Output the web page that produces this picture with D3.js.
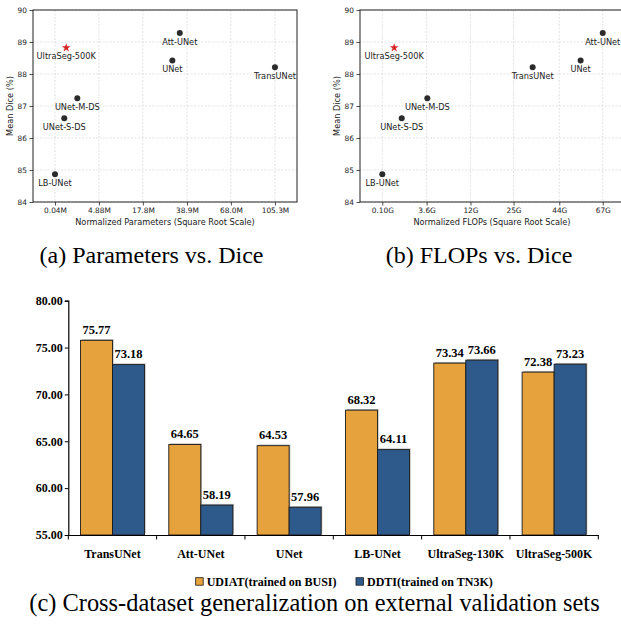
<!DOCTYPE html>
<html>
<head>
<meta charset="utf-8">
<script src="https://cdn.jsdelivr.net/npm/d3@7"></script>
<style>
  body { margin: 0; background: #fff; }
  svg { display: block; }
</style>
</head>
<body>
<svg width="621" height="625"></svg>
<script>
// scatter data (a) and (b)
var models = ["UltraSeg-500K", "UNet-S-DS", "UNet-M-DS", "LB-UNet", "UNet", "Att-UNet", "TransUNet"];
var dice = [88.82, 86.62, 87.24, 84.87, 88.42, 89.28, 88.21];
var params = [0.51, 0.39, 1.49, 0.04, 31.0, 34.9, 105.3];   // M
var flops = [0.55, 1.02, 3.70, 0.10, 54.7, 67.0, 32.3];     // G
var paramTicks = [0.04, 4.88, 17.8, 38.9, 68.0, 105.3];
var paramTickLabels = ["0.04M", "4.88M", "17.8M", "38.9M", "68.0M", "105.3M"];
var flopTicks = [0.10, 3.6, 12, 25, 44, 67];
var flopTickLabels = ["0.10G", "3.6G", "12G", "25G", "44G", "67G"];
var diceTicks = [84, 85, 86, 87, 88, 89, 90];

// bar data (c)
var categories = ["TransUNet", "Att-UNet", "UNet", "LB-UNet", "UltraSeg-130K", "UltraSeg-500K"];
var udiat = [75.77, 64.65, 64.53, 68.32, 73.34, 72.38];
var ddti = [73.18, 58.19, 57.96, 64.11, 73.66, 73.23];
var seriesNames = ["UDIAT(trained on BUSI)", "DDTI(trained on TN3K)"];
var barTicks = [55, 60, 65, 70, 75, 80];

var svg = d3.select("svg");
var sans = "DejaVu Sans, sans-serif";
var serif = "Liberation Serif, Times New Roman, serif";

function scatter(x, xVals, xTicks, xTickLabels, xTitle, caption, capX) {
    var y = d3.scaleLinear().domain([84, 90]).range([202, 10]);
    var g = svg.append("g");
    var x0 = x.range()[0], x1 = x.range()[1];

    // grid
    g.selectAll(".gx").data(xTicks).enter().append("line")
        .attr("x1", function(d) { return x(d); }).attr("x2", function(d) { return x(d); })
        .attr("y1", 10).attr("y2", 202)
        .attr("stroke", "#d0d0d0").attr("stroke-width", 0.6).attr("stroke-dasharray", "2,1.5");
    g.selectAll(".gy").data(diceTicks).enter().append("line")
        .attr("x1", x0).attr("x2", x1)
        .attr("y1", function(d) { return y(d); }).attr("y2", function(d) { return y(d); })
        .attr("stroke", "#d0d0d0").attr("stroke-width", 0.6).attr("stroke-dasharray", "2,1.5");

    // frame
    g.append("rect").attr("x", x0).attr("y", 10).attr("width", x1 - x0).attr("height", 192)
        .attr("fill", "none").attr("stroke", "#222").attr("stroke-width", 1);

    // axes
    var ax = g.append("g").attr("transform", "translate(0,202)")
        .call(d3.axisBottom(x).tickValues(xTicks).tickSize(3.5).tickPadding(2)
            .tickFormat(function(d, i) { return xTickLabels[i]; }));
    var ay = g.append("g").attr("transform", "translate(" + x0 + ",0)")
        .call(d3.axisLeft(y).tickValues(diceTicks).tickSize(3.5).tickPadding(2.5)
            .tickFormat(d3.format("d")));
    [ax, ay].forEach(function(a) {
        a.select(".domain").remove();
        a.selectAll("line").attr("stroke", "#222").attr("stroke-width", 0.8);
        a.selectAll("text").attr("font-family", sans).attr("font-size", 7.4).attr("fill", "#222");
    });

    // points
    var pts = models.map(function(m, i) { return {name: m, x: xVals[i], y: dice[i]}; });
    g.selectAll(".pt").data(pts.filter(function(d) { return d.name != "UltraSeg-500K"; }))
        .enter().append("circle")
        .attr("cx", function(d) { return x(d.x); })
        .attr("cy", function(d) { return y(d.y); })
        .attr("r", 3).attr("fill", "#2b2b2b");
    g.selectAll(".star").data(pts.filter(function(d) { return d.name == "UltraSeg-500K"; }))
        .enter().append("path")
        .attr("d", d3.symbol().type(d3.symbolStar).size(24))
        .attr("transform", function(d) { return "translate(" + x(d.x) + "," + y(d.y) + ")"; })
        .attr("fill", "#d62728");
    g.selectAll(".lab").data(pts).enter().append("text")
        .attr("x", function(d) { return x(d.x); })
        .attr("y", function(d) { return y(d.y) + 11.5; })
        .attr("text-anchor", "middle")
        .attr("font-family", sans).attr("font-size", 8.2).attr("fill", "#222")
        .text(function(d) { return d.name; });

    // titles
    g.append("text").attr("x", x0 + 132).attr("y", 224.5)
        .attr("text-anchor", "middle").attr("font-family", sans).attr("font-size", 8.2)
        .attr("fill", "#222").text(xTitle);
    g.append("text").attr("transform", "translate(" + (x0 - 20) + ",106) rotate(-90)")
        .attr("text-anchor", "middle").attr("font-family", sans).attr("font-size", 8.2)
        .attr("fill", "#222").text("Mean Dice (%)");
    g.append("text").attr("x", capX).attr("y", 263)
        .attr("text-anchor", "middle").attr("font-family", serif).attr("font-size", 24)
        .attr("fill", "#000").text(caption);
}

var xp = d3.scaleSqrt().domain([-0.65, 127]).range([33, 297]);
scatter(xp, params, paramTicks, paramTickLabels,
    "Normalized Parameters (Square Root Scale)", "(a) Parameters vs. Dice", 151.5);

var xf = d3.scaleSqrt().domain([-0.23, 80.0]).range([360, 624]);
scatter(xf, flops, flopTicks, flopTickLabels,
    "Normalized FLOPs (Square Root Scale)", "(b) FLOPs vs. Dice", 479);

// ---- bar chart (c) ----
var colors = ["#E6A23C", "#2E5A8B"];
var xb = d3.scaleBand().domain(categories).range([68.3, 598.3]).padding(0);
var xs = d3.scaleBand().domain([0, 1]).range([0, xb.bandwidth()]).paddingOuter(0.38).paddingInner(0);
var yb = d3.scaleLinear().domain([55, 80]).range([535, 300.7]);

var rows = [];
categories.forEach(function(c, i) {
    rows.push({cat: c, s: 0, v: udiat[i]});
    rows.push({cat: c, s: 1, v: ddti[i]});
});

var bg = svg.append("g");
// soft shadow behind bars
bg.selectAll(".shadow").data(rows).enter().append("rect")
    .attr("x", function(d) { return xb(d.cat) + xs(d.s) + 1.2; })
    .attr("y", function(d) { return yb(d.v) - 1.2; })
    .attr("width", xs.bandwidth())
    .attr("height", function(d) { return yb(55) - yb(d.v); })
    .attr("fill", "#b8b8b8");
bg.selectAll(".bar").data(rows).enter().append("rect")
    .attr("x", function(d) { return xb(d.cat) + xs(d.s); })
    .attr("y", function(d) { return yb(d.v); })
    .attr("width", xs.bandwidth())
    .attr("height", function(d) { return yb(55) - yb(d.v); })
    .attr("fill", function(d) { return colors[d.s]; })
    .attr("stroke", "#1a1a1a").attr("stroke-width", 0.9);
bg.selectAll(".val").data(rows).enter().append("text")
    .attr("x", function(d) { return xb(d.cat) + xs(d.s) + xs.bandwidth() / 2; })
    .attr("y", function(d) { return yb(d.v) - 6.5; })
    .attr("text-anchor", "middle")
    .attr("font-family", serif).attr("font-weight", "bold").attr("font-size", 12.5)
    .text(function(d) { return d.v.toFixed(2); });

// y axis
var yAx = bg.append("g").attr("transform", "translate(68.3,0)")
    .call(d3.axisLeft(yb).tickValues(barTicks).tickSize(3.5).tickPadding(2)
        .tickFormat(d3.format(".2f")));
yAx.select(".domain").attr("stroke", "#000").attr("stroke-width", 1.2);
yAx.selectAll("line").attr("stroke", "#000").attr("stroke-width", 1);
yAx.selectAll("text").attr("font-family", serif).attr("font-weight", "bold")
    .attr("font-size", 12).attr("fill", "#000");

// x axis: labels at group centres, ticks at group boundaries
var xAx = bg.append("g").attr("transform", "translate(0,535)")
    .call(d3.axisBottom(xb).tickSize(0).tickPadding(14));
xAx.select(".domain").attr("stroke", "#000").attr("stroke-width", 1.2);
xAx.selectAll("text").attr("font-family", serif).attr("font-weight", "bold")
    .attr("font-size", 12).attr("fill", "#000");
var bounds = categories.map(function(c) { return xb(c); }).concat([xb.range()[1]]);
bg.selectAll(".bt").data(bounds).enter().append("line")
    .attr("x1", function(d) { return d; }).attr("x2", function(d) { return d; })
    .attr("y1", 535).attr("y2", 539.5)
    .attr("stroke", "#000").attr("stroke-width", 1);

// legend
var legX = [195.7, 356];
var leg = bg.selectAll(".leg").data(seriesNames).enter().append("g")
    .attr("transform", function(d, i) { return "translate(" + legX[i] + ",577.7)"; });
leg.append("rect").attr("width", 7.5).attr("height", 7.5)
    .attr("fill", function(d, i) { return colors[i]; })
    .attr("stroke", "#1a1a1a").attr("stroke-width", 0.8);
leg.append("text").attr("x", 11).attr("y", 7.8)
    .attr("font-family", serif).attr("font-weight", "bold").attr("font-size", 12)
    .text(function(d) { return d; });

svg.append("text").attr("x", 314.5).attr("y", 611)
    .attr("text-anchor", "middle").attr("font-family", serif).attr("font-size", 24.4)
    .text("(c) Cross-dataset generalization on external validation sets");
</script>
</body>
</html>
